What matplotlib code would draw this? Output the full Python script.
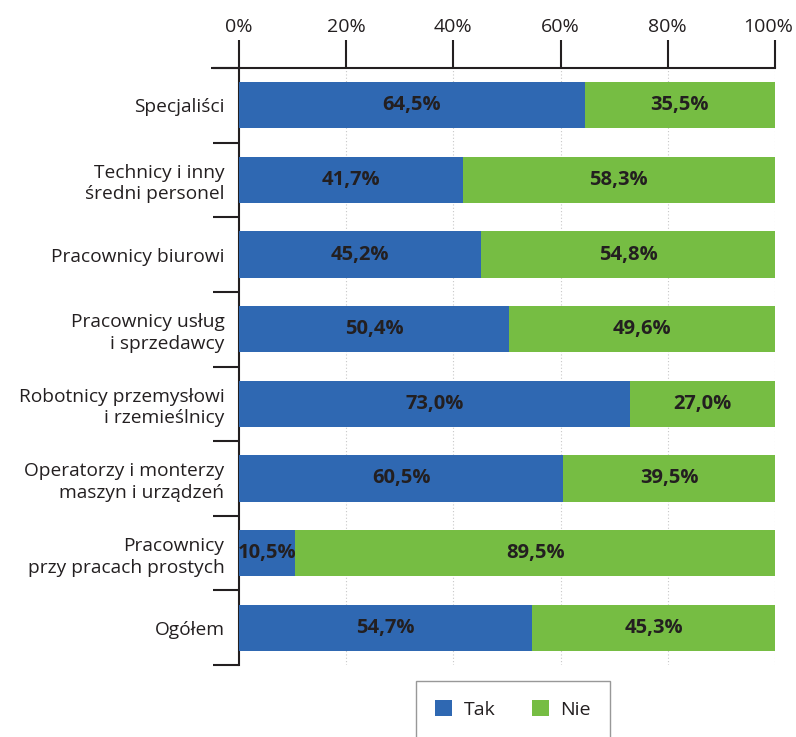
import matplotlib.pyplot as plt
from matplotlib.lines import Line2D
import numpy as np

categories = [
    "Specjaliści",
    "Technicy i inny\nśredni personel",
    "Pracownicy biurowi",
    "Pracownicy usług\ni sprzedawcy",
    "Robotnicy przemysłowi\ni rzemieślnicy",
    "Operatorzy i monterzy\nmaszyn i urządzeń",
    "Pracownicy\nprzy pracach prostych",
    "Ogółem",
]
tak = [64.5, 41.7, 45.2, 50.4, 73.0, 60.5, 10.5, 54.7]
nie = [35.5, 58.3, 54.8, 49.6, 27.0, 39.5, 89.5, 45.3]
x_ticks = [0, 20, 40, 60, 80, 100]
x_tick_labels = ["0%", "20%", "40%", "60%", "80%", "100%"]
series_names = ["Tak", "Nie"]

BLUE = "#2F68B2"
GREEN = "#76BD43"
INK = "#231F20"

plt.rcParams["font.family"] = ["Open Sans", "DejaVu Sans"]

fig = plt.figure(figsize=(7.96, 7.37), dpi=100)
W, H = 796, 737
ax = fig.add_axes([239 / W, 72 / H, 536 / W, 597 / H])

y = np.arange(len(categories))
bar_h = 0.62
b1 = ax.barh(y, tak, height=bar_h, color=BLUE, label=series_names[0], zorder=3)
b2 = ax.barh(y, nie, left=tak, height=bar_h, color=GREEN, label=series_names[1], zorder=3)

def pct(v):
    return f"{v:.1f}%".replace(".", ",")

for yi, a, b in zip(y, tak, nie):
    ax.text(a / 2, yi, pct(a), ha="center", va="center", fontsize=14.5,
            fontweight="bold", color=INK, zorder=4)
    ax.text(a + b / 2, yi, pct(b), ha="center", va="center", fontsize=14.5,
            fontweight="bold", color=INK, zorder=4)

ax.set_xlim(0, 100)
ax.set_ylim(len(categories) - 0.5, -0.5)

# percentage axis on top; the last label is nudged inward
TICK_LEN = 20
TICK_PAD = 3
ax.xaxis.tick_top()
ax.set_xticks(x_ticks)
ax.set_xticklabels(x_tick_labels[:-1] + [""])
ax.tick_params(axis="x", which="major", direction="out", length=TICK_LEN, width=1.5,
               color=INK, labelsize=14, labelcolor=INK, pad=TICK_PAD)
ax.annotate(x_tick_labels[-1], xy=(x_ticks[-1], 1), xycoords=("data", "axes fraction"),
            xytext=(-5, TICK_LEN + TICK_PAD), textcoords="offset points",
            ha="center", va="bottom", fontsize=14, color=INK)

# category labels with separators between groups
ax.set_yticks(y)
ax.set_yticklabels(categories, fontsize=13.8, color=INK, multialignment="right",
                   linespacing=1.25)
ax.tick_params(axis="y", which="major", length=0, pad=10.5)
ax.set_yticks(np.arange(-0.5, len(categories)), minor=True)
ax.tick_params(axis="y", which="minor", direction="out", length=19, width=1.5, color=INK)

for s in ["right", "bottom"]:
    ax.spines[s].set_visible(False)
for s in ["top", "left"]:
    ax.spines[s].set_linewidth(1.5)
    ax.spines[s].set_color(INK)

# extend the top rule to the left of the axis
ax.add_line(Line2D([-28 / 536, 0], [1, 1], transform=ax.transAxes, color=INK,
                   lw=1.5, clip_on=False, solid_capstyle="butt"))

# dotted vertical gridlines
for xv in x_ticks[1:]:
    ax.axvline(xv, color="#C8C8C8", lw=0.8, ls=(0, (1, 2)), zorder=1)

leg = fig.legend(handles=[b1, b2], labels=series_names, loc="upper center",
                 bbox_to_anchor=(513 / W, 1 - 681 / H), ncol=2, frameon=True,
                 fancybox=False, fontsize=14, handlelength=0.85, handleheight=0.85,
                 handletextpad=0.6, columnspacing=1.9, borderpad=1.0,
                 borderaxespad=0)
leg.get_frame().set_edgecolor("#7F7F7F")
leg.get_frame().set_linewidth(1.0)
for t in leg.get_texts():
    t.set_color(INK)

fig.savefig("out.png", dpi=100)
